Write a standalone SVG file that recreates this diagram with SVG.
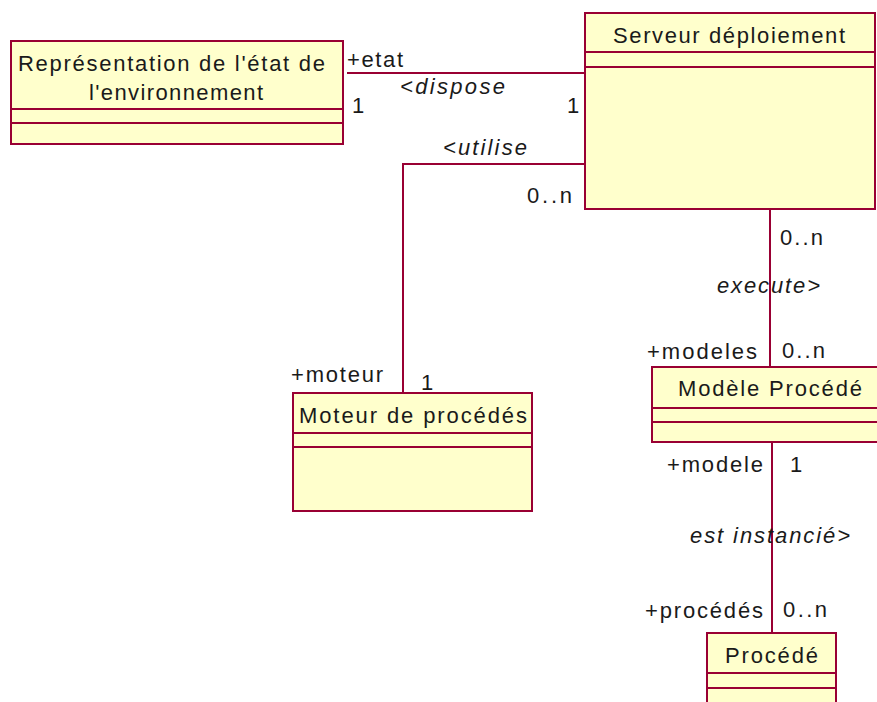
<svg xmlns="http://www.w3.org/2000/svg" width="877" height="702" viewBox="0 0 877 702">
<style>
.box{fill:#FFFFCC;stroke:#990033;stroke-width:2}
.div{stroke:#990033;stroke-width:2;fill:none}
.con{stroke:#990033;stroke-width:2;fill:none}
text{font-family:"Liberation Sans",Arial,sans-serif;font-size:22px;fill:#1a1a1a}
.it{font-style:italic}
</style>
<rect width="877" height="702" fill="#FFFFFF"/>
<g id="connectors">
<line class="con" x1="347" y1="73" x2="585" y2="73"/>
<polyline class="con" points="585,164 403,164 403,393"/>
<line class="con" x1="770" y1="209" x2="770" y2="367"/>
<line class="con" x1="772" y1="442" x2="772" y2="633"/>
<text x="347" y="67" textLength="56" lengthAdjust="spacing">+etat</text>
<text x="352" y="113">1</text>
<text class="it" x="400" y="94" textLength="105" lengthAdjust="spacing">&lt;dispose</text>
<text x="567" y="113">1</text>
<text class="it" x="443" y="155" textLength="84" lengthAdjust="spacing">&lt;utilise</text>
<text x="527" y="203" textLength="45" lengthAdjust="spacing">0..n</text>
<text x="291" y="382" textLength="92" lengthAdjust="spacing">+moteur</text>
<text x="421" y="390">1</text>
<text x="780" y="245" textLength="43" lengthAdjust="spacing">0..n</text>
<text class="it" x="717" y="293" textLength="103" lengthAdjust="spacing">execute&gt;</text>
<text x="647" y="359" textLength="110" lengthAdjust="spacing">+modeles</text>
<text x="782" y="358" textLength="43" lengthAdjust="spacing">0..n</text>
<text x="667" y="472" textLength="96" lengthAdjust="spacing">+modele</text>
<text x="790" y="472">1</text>
<text class="it" x="690" y="543" textLength="160" lengthAdjust="spacing">est instancié&gt;</text>
<text x="645" y="618" textLength="118" lengthAdjust="spacing">+procédés</text>
<text x="783" y="617" textLength="44" lengthAdjust="spacing">0..n</text>
</g>
<g id="node-representation">
<rect class="box" x="11" y="41" width="332" height="103"/>
<line class="div" x1="11" y1="109" x2="343" y2="109"/>
<line class="div" x1="11" y1="123" x2="343" y2="123"/>
<text x="18" y="71" textLength="307" lengthAdjust="spacing">Représentation de l'état de</text>
<text x="89" y="100" textLength="174" lengthAdjust="spacing">l'environnement</text>
</g>
<g id="node-serveur">
<rect class="box" x="585" y="13" width="290" height="196"/>
<line class="div" x1="585" y1="52" x2="875" y2="52"/>
<line class="div" x1="585" y1="67" x2="875" y2="67"/>
<text x="613" y="43" textLength="232" lengthAdjust="spacing">Serveur déploiement</text>
</g>
<g id="node-moteur">
<rect class="box" x="293" y="393" width="239" height="118"/>
<line class="div" x1="293" y1="433" x2="532" y2="433"/>
<line class="div" x1="293" y1="447" x2="532" y2="447"/>
<text x="299" y="423" textLength="228" lengthAdjust="spacing">Moteur de procédés</text>
</g>
<g id="node-modele">
<rect class="box" x="652" y="367" width="236" height="75"/>
<line class="div" x1="652" y1="408" x2="888" y2="408"/>
<line class="div" x1="652" y1="422" x2="888" y2="422"/>
<text x="678" y="396" textLength="184" lengthAdjust="spacing">Modèle Procédé</text>
</g>
<g id="node-procede">
<rect class="box" x="707" y="633" width="129" height="80"/>
<line class="div" x1="707" y1="673" x2="836" y2="673"/>
<line class="div" x1="707" y1="688" x2="836" y2="688"/>
<text x="725" y="663" textLength="93" lengthAdjust="spacing">Procédé</text>
</g>
</svg>
